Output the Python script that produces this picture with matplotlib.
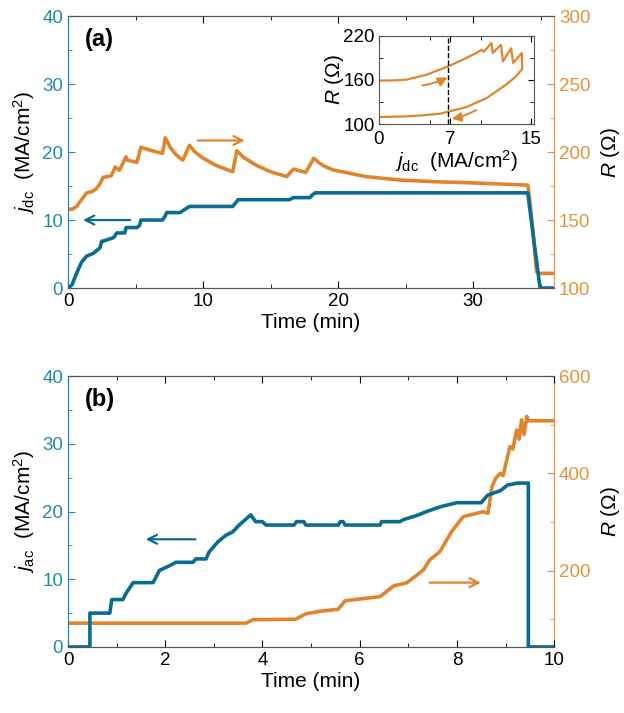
import numpy as np
import matplotlib.pyplot as plt
from matplotlib.ticker import MultipleLocator

plt.rcParams['font.family'] = ['Liberation Sans', 'DejaVu Sans']
plt.rcParams['mathtext.fontset'] = 'custom'
plt.rcParams['mathtext.rm'] = 'Liberation Sans'
plt.rcParams['mathtext.it'] = 'Liberation Sans:italic'

blue = '#0b6c93'
blue_ax = '#1f8ab3'
orange = '#e0852e'
orange_ax = '#e6913d'
gray = '#555555'
tick_fs = 13.5
label_fs = 15

# ---- panel (a): dc current density and resistance vs time
t_dc = [0, 0.3, 0.64, 1.0, 1.38, 1.87, 2.36, 2.5, 2.6, 3.35, 3.45, 3.6, 4.2, 4.3, 5.1, 5.3, 5.4, 7.0,
        7.2, 7.3, 8.3, 8.6, 9.0, 12.2, 12.4, 12.6, 16.4, 16.7, 17.9, 18.1, 18.3, 34.05, 34.5, 34.96, 36]
j_dc = [0, 0.5, 2.2, 3.8, 4.7, 5.1, 5.9, 6.9, 6.9, 7.4, 7.6, 8.1, 8.1, 8.9, 8.9, 9.2, 10, 10,
        10.6, 11.1, 11.1, 11.5, 12, 12, 12.5, 13, 13, 13.3, 13.3, 13.7, 14, 14, 7, 0, 0]

t_ra = [0, 0.3, 0.64, 1.0, 1.38, 1.8, 2.1, 2.36, 2.6, 3.2, 3.5, 3.8, 4.3, 4.4, 5.1, 5.4, 6.2, 7.0,
        7.2, 7.6, 8.0, 8.5, 9.0, 9.4, 10, 11, 12.2, 12.5, 13, 14, 15, 16.2, 16.7, 17.6, 18.2,
        18.6, 19.0, 19.65, 22.1, 24.6, 27.1, 29.5, 32, 34.05, 34.2, 34.45, 34.7, 34.9, 36]
r_a = [158, 158, 160, 165, 170, 171, 173, 176.5, 181.4, 182.5, 189, 186.5, 196.5, 194, 192.5, 203.5, 201, 199,
       210.5, 203, 198, 194, 205, 200, 195.5, 190, 185.5, 201, 196, 190, 185.5, 182, 187.5, 185, 195.4,
       192, 189.5, 186.8, 181.9, 179.4, 178.2, 177.5, 176.5, 175.7, 164.7, 140, 112, 110.8, 110.8]

# inset: R vs j_dc sweep
j_up = [0, 1.5, 2.7, 4.7, 6.8, 8.6, 9.25, 9.6, 10.1, 10.3, 10.5, 11.05, 11.2, 12.0, 12.2, 13.0, 13.2, 14.05, 14.08]
r_up = [158.9, 159.3, 160.2, 167, 178.3, 189.7, 194.2, 196.4, 201, 198, 201, 210, 196.4, 207.8, 185, 203, 183, 196.4, 176]
j_down = [14.08, 13.5, 12.5, 10.6, 8.6, 6.0, 4.0, 2.7, 0]
r_down = [174.7, 165, 153.4, 135.3, 123, 114, 111.5, 110.4, 109.5]

# ---- panel (b): ac current density and resistance vs time
t_ac = [0, 0.45, 0.45, 0.86, 0.9, 1.13, 1.2, 1.34, 1.75, 1.88, 2.09, 2.22, 2.57, 2.63, 2.84, 2.9, 3.08, 3.25,
        3.39, 3.52, 3.76, 3.86, 4.0, 4.07, 4.65, 4.7, 4.85, 4.89, 5.56, 5.6, 5.66, 5.7, 6.42, 6.45, 6.83,
        6.9, 7.17, 7.38, 7.66, 8.0, 8.5, 8.63, 8.9, 9.04, 9.25, 9.47, 9.47, 10]
j_ac = [0, 0, 5, 5, 7, 7, 8, 9.5, 9.5, 11.3, 12, 12.5, 12.5, 13, 13, 14, 15.5, 16.5,
        17, 18, 19.5, 18.5, 18.5, 18, 18, 18.5, 18.5, 18, 18, 18.5, 18.5, 18, 18, 18.5, 18.5,
        18.8, 19.4, 20, 20.7, 21.3, 21.3, 22.4, 23.1, 23.9, 24.2, 24.2, 0, 0]

t_rb = [0, 3.66, 3.8, 4.68, 4.89, 5.16, 5.56, 5.7, 6.42, 6.7, 6.97, 7.31, 7.44, 7.65, 7.89, 8.13, 8.54,
        8.64, 8.72, 8.8, 8.89, 8.95, 9.09, 9.15, 9.23, 9.28, 9.33, 9.38, 9.44, 9.47, 10]
r_b = [92, 92, 99, 100, 111, 116, 120.7, 138, 146.6, 168.6, 175, 201, 222, 239, 280, 311, 321,
       318, 372, 390, 400, 395, 455, 450, 489, 470, 510, 480, 517, 508, 508]

fig = plt.figure(figsize=(6.24, 7.13), dpi=100)


def style_axes(ax, ax2):
    ax.tick_params(which='both', direction='in', top=True, colors='black', labelsize=tick_fs)
    ax.tick_params(axis='y', which='both', colors=blue_ax)
    ax.tick_params(which='major', length=5)
    ax.tick_params(which='minor', length=3)
    ax2.tick_params(which='both', direction='in', colors=orange_ax, labelsize=tick_fs)
    ax2.tick_params(which='major', length=5)
    ax2.tick_params(which='minor', length=3)
    for s in ['top', 'bottom']:
        ax.spines[s].set_color(gray)
        ax2.spines[s].set_color(gray)
    ax.spines['left'].set_color(blue_ax)
    ax2.spines['left'].set_color(blue_ax)
    ax2.spines['right'].set_color(orange_ax)
    ax.spines['right'].set_visible(False)


# panel (a)
ax = fig.add_axes([0.109, 0.596, 0.779, 0.3815])
ax2 = ax.twinx()
ax.plot(t_dc, j_dc, color=blue, lw=2.6, zorder=3)
ax2.plot(t_ra, r_a, color=orange, lw=2.6)
ax.set_zorder(ax2.get_zorder() + 1)
ax.patch.set_visible(False)
ax.set_xlim(0, 36)
ax.set_ylim(0, 40)
ax2.set_ylim(100, 300)
ax.xaxis.set_major_locator(MultipleLocator(10))
ax.xaxis.set_minor_locator(MultipleLocator(5))
ax.yaxis.set_major_locator(MultipleLocator(10))
ax.yaxis.set_minor_locator(MultipleLocator(5))
ax2.yaxis.set_major_locator(MultipleLocator(50))
ax2.yaxis.set_minor_locator(MultipleLocator(25))
style_axes(ax, ax2)
ax.set_xlabel('Time (min)', fontsize=label_fs, labelpad=2)
ax.set_ylabel(r'$j_{\rm dc}$  (MA/cm$^2$)', fontsize=label_fs, labelpad=4)
ax2.set_ylabel(r'$R$ (Ω)', fontsize=label_fs, rotation=90, labelpad=6)
ax.text(0.035, 0.955, '(a)', transform=ax.transAxes, fontsize=17, fontweight='bold', va='top')
ax.annotate('', xy=(0.9, 10), xytext=(4.8, 10),
            arrowprops=dict(arrowstyle='->', color=blue, lw=1.6, mutation_scale=16))
ax.annotate('', xy=(13.3, 21.7), xytext=(9.4, 21.7),
            arrowprops=dict(arrowstyle='->', color=orange, lw=1.6, mutation_scale=16))

# inset
ins = fig.add_axes([0.607, 0.826, 0.248, 0.124])
ins.plot(j_up, r_up, color=orange, lw=1.6)
ins.plot(j_down, r_down, color=orange, lw=1.6)
ins.axvline(6.8, color='black', ls='--', lw=1.0)
ins.set_xlim(0, 15.2)
ins.set_ylim(100, 220)
ins.set_xticks([0, 7, 15])
ins.set_xticks([5, 10], minor=True)
ins.set_yticks([100, 160, 220])
ins.set_yticks([130, 190], minor=True)
ins.tick_params(which='both', direction='in', top=True, right=True, labelsize=tick_fs)
ins.tick_params(axis='x', pad=5)
ins.tick_params(axis='y', pad=3)
ins.tick_params(which='major', length=4)
ins.tick_params(which='minor', length=3)
for s in ins.spines.values():
    s.set_color(gray)
ins.set_xlabel(r'$j_{\rm dc}$  (MA/cm$^2$)', fontsize=label_fs, labelpad=0)
ins.set_ylabel(r'$R$ (Ω)', fontsize=label_fs, labelpad=-2)
ins.annotate('', xy=(7.0, 165), xytext=(4.0, 152),
             arrowprops=dict(arrowstyle='-|>', color=orange, lw=1.4, mutation_scale=14,
                             connectionstyle='arc3,rad=0.1'))
ins.annotate('', xy=(6.9, 106.5), xytext=(9.8, 121),
             arrowprops=dict(arrowstyle='-|>', color=orange, lw=1.4, mutation_scale=14,
                             connectionstyle='arc3,rad=-0.1'))

# panel (b)
bx = fig.add_axes([0.109, 0.0926, 0.779, 0.380])
bx2 = bx.twinx()
bx.plot(t_ac, j_ac, color=blue, lw=2.6, zorder=3)
bx2.plot(t_rb, r_b, color=orange, lw=2.6)
bx.set_zorder(bx2.get_zorder() + 1)
bx.patch.set_visible(False)
bx.set_xlim(0, 10)
bx.set_ylim(0, 40)
bx2.set_ylim(43, 600)
bx.xaxis.set_major_locator(MultipleLocator(2))
bx.xaxis.set_minor_locator(MultipleLocator(1))
bx.yaxis.set_major_locator(MultipleLocator(10))
bx.yaxis.set_minor_locator(MultipleLocator(5))
bx2.set_yticks([200, 400, 600])
bx2.set_yticks([100, 300, 500], minor=True)
style_axes(bx, bx2)
bx.set_xlabel('Time (min)', fontsize=label_fs, labelpad=2)
bx.set_ylabel(r'$j_{\rm ac}$  (MA/cm$^2$)', fontsize=label_fs, labelpad=4)
bx2.set_ylabel(r'$R$ (Ω)', fontsize=label_fs, rotation=90, labelpad=6)
bx.text(0.035, 0.955, '(b)', transform=bx.transAxes, fontsize=17, fontweight='bold', va='top')
bx.annotate('', xy=(1.54, 15.9), xytext=(2.68, 15.9),
            arrowprops=dict(arrowstyle='->', color=blue, lw=1.6, mutation_scale=16))
bx.annotate('', xy=(8.55, 9.5), xytext=(7.38, 9.5),
            arrowprops=dict(arrowstyle='->', color=orange, lw=1.6, mutation_scale=16))

fig.savefig('out.png', dpi=100)
